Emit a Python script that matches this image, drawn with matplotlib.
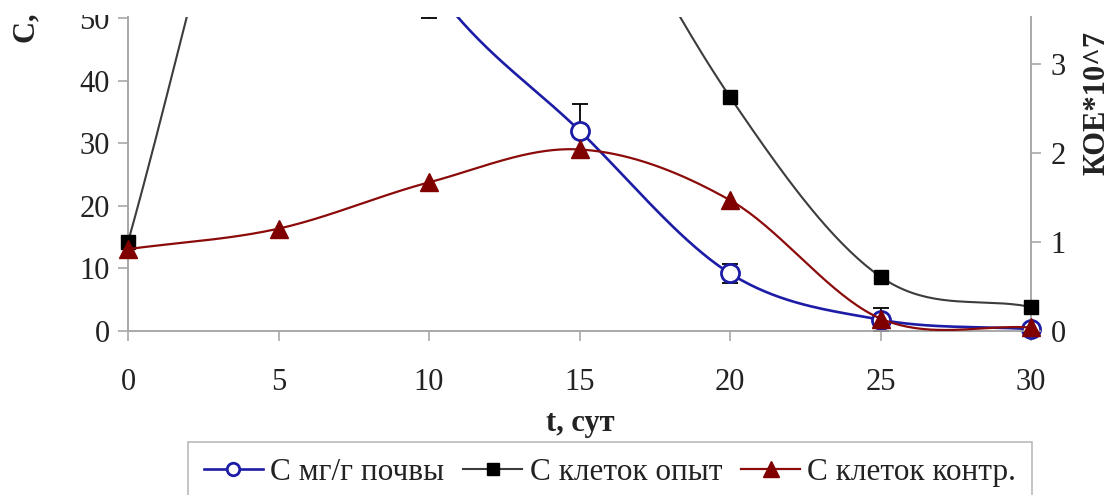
import numpy as np
import matplotlib
matplotlib.use('Agg')
import matplotlib.pyplot as plt
from matplotlib.lines import Line2D
from matplotlib.patches import Rectangle

plt.rcParams['font.family'] = ['Liberation Serif', 'DejaVu Serif']

# data
t = [0, 5, 10, 15, 20, 25, 30]
c_soil = [100, 100, 56, 32, 9.2, 1.8, 0.3]        # С мг/г почвы (left axis)
c_soil_err = [0, 0, 6, 4.2, 1.5, 1.8, 0.4]
c_cells_exp = [1.0, 7.0, 9.0, 5.6, 2.63, 0.61, 0.27]  # С клеток опыт (right axis)
c_cells_ctrl = [0.92, 1.15, 1.67, 2.04, 1.47, 0.14, 0.04]  # С клеток контр. (right axis)
x_ticks = [0, 5, 10, 15, 20, 25, 30]
left_ticks = [0, 10, 20, 30, 40, 50]
right_ticks = [0, 1, 2, 3]

BLUE = '#1c1ca6'
GRAY = '#3c3c3c'
RED = '#8b0a0a'
AXC = '#a8a8a8'
TXT = '#222222'


def smooth(x, y, n=40):
    # excel-like smoothed line (catmull-rom through the points)
    x = np.asarray(x, float)
    y = np.asarray(y, float)
    xs, ys = [], []
    k = len(x)
    for i in range(k - 1):
        p0 = (x[i - 1], y[i - 1]) if i > 0 else (2 * x[i] - x[i + 1], 2 * y[i] - y[i + 1])
        p3 = (x[i + 2], y[i + 2]) if i + 2 < k else (2 * x[i + 1] - x[i], 2 * y[i + 1] - y[i])
        m1x, m1y = (x[i + 1] - p0[0]) / 2, (y[i + 1] - p0[1]) / 2
        m2x, m2y = (p3[0] - x[i]) / 2, (p3[1] - y[i]) / 2
        s = np.linspace(0, 1, n)
        h00 = 2 * s**3 - 3 * s**2 + 1
        h10 = s**3 - 2 * s**2 + s
        h01 = -2 * s**3 + 3 * s**2
        h11 = s**3 - s**2
        xs.append(h00 * x[i] + h10 * m1x + h01 * x[i + 1] + h11 * m2x)
        ys.append(h00 * y[i] + h10 * m1y + h01 * y[i + 1] + h11 * m2y)
    return np.concatenate(xs), np.concatenate(ys)


W, H = 1112, 495
TOP = 17  # plot area top (the picture is cropped just above it)
fig = plt.figure(figsize=(W / 100, H / 100), dpi=100)
ax = fig.add_axes([128 / W, 1 - 331 / H, (1031 - 128) / W, (331 - TOP) / H])
ax2 = ax.twinx()

# left axis series
sx, sy = smooth(t, c_soil)
ax.plot(sx, sy, color=BLUE, lw=1.9, zorder=2)
ax.errorbar(t, c_soil, yerr=c_soil_err, fmt='none', ecolor='black', elinewidth=1.3,
            capsize=5.5, capthick=1.3, zorder=3)
ax.plot(t, c_soil, ls='none', marker='o', ms=13, mfc='white', mec=BLUE, mew=2,
        zorder=4, clip_on=False)

# right axis series
bx, by = smooth(t, c_cells_exp)
ax2.plot(bx, by, color=GRAY, lw=1.5, zorder=2)
ax2.plot(t, c_cells_exp, ls='none', marker='s', ms=10.5, color='black', zorder=3, clip_on=False)
rx, ry = smooth(t, c_cells_ctrl)
ax2.plot(rx, ry, color=RED, lw=1.6, zorder=4)
ax2.plot(t, c_cells_ctrl, ls='none', marker='^', ms=13, color='#800000', zorder=5, clip_on=False)

ax.set_xlim(0, 30)
ax.set_ylim(0, (331 - TOP) / 6.26)
ax2.set_ylim(0, (331 - TOP) / 89.0)
ax.set_xticks(x_ticks)
ax.set_yticks(left_ticks)
ax2.set_yticks(right_ticks)

for a in (ax, ax2):
    a.spines['top'].set_visible(False)
    for sp in a.spines.values():
        sp.set_color(AXC)
        sp.set_linewidth(1.2)
ax.tick_params(axis='both', direction='out', length=7, width=1.2, color=AXC,
               labelsize=22, labelcolor=TXT)
ax.tick_params(axis='x', pad=20)
ax.tick_params(axis='y', pad=6)
ax2.tick_params(axis='y', direction='out', length=7, width=1.2, color=AXC,
                labelsize=22, labelcolor=TXT, pad=7)

fig.text(27 / W, 1 - 43 / H, 'С, мг/г почвы', rotation=90, ha='center', va='bottom',
         fontsize=22, fontweight='bold', color=TXT)
fig.text(1097 / W, 1 - 103 / H, 'КОЕ*10^7', rotation=90, ha='center', va='center',
         fontsize=22, fontweight='bold', color=TXT)
fig.text(580 / W, 1 - 424 / H, 't, сут', ha='center', va='center',
         fontsize=22, fontweight='bold', color=TXT)

handles = [
    Line2D([], [], color=BLUE, lw=1.9, marker='o', ms=9, mfc='white', mec=BLUE, mew=2),
    Line2D([], [], color=GRAY, lw=1.5, marker='s', ms=8, mfc='black', mec='black'),
    Line2D([], [], color=RED, lw=1.6, marker='^', ms=11, mfc='#800000', mec='#800000'),
]
labels = ['С мг/г почвы', 'С клеток опыт', 'С клеток контр.']
leg = fig.legend(handles, labels, loc='upper left', bbox_to_anchor=(188 / W, 1 - 442 / H),
                 ncol=3, fontsize=22.5, frameon=True, fancybox=False, handlelength=1.9,
                 handletextpad=0.23, columnspacing=0.6, borderpad=0.5, borderaxespad=0)
leg.get_frame().set_edgecolor(AXC)
leg.get_frame().set_linewidth(1.2)
for txt in leg.get_texts():
    txt.set_color(TXT)

# blank strip where the original picture was cropped
fig.add_artist(Rectangle((0, 1 - 15 / H), 1, 15 / H, transform=fig.transFigure,
                         facecolor='white', edgecolor='none', zorder=50))

fig.savefig('out.png', dpi=100)
